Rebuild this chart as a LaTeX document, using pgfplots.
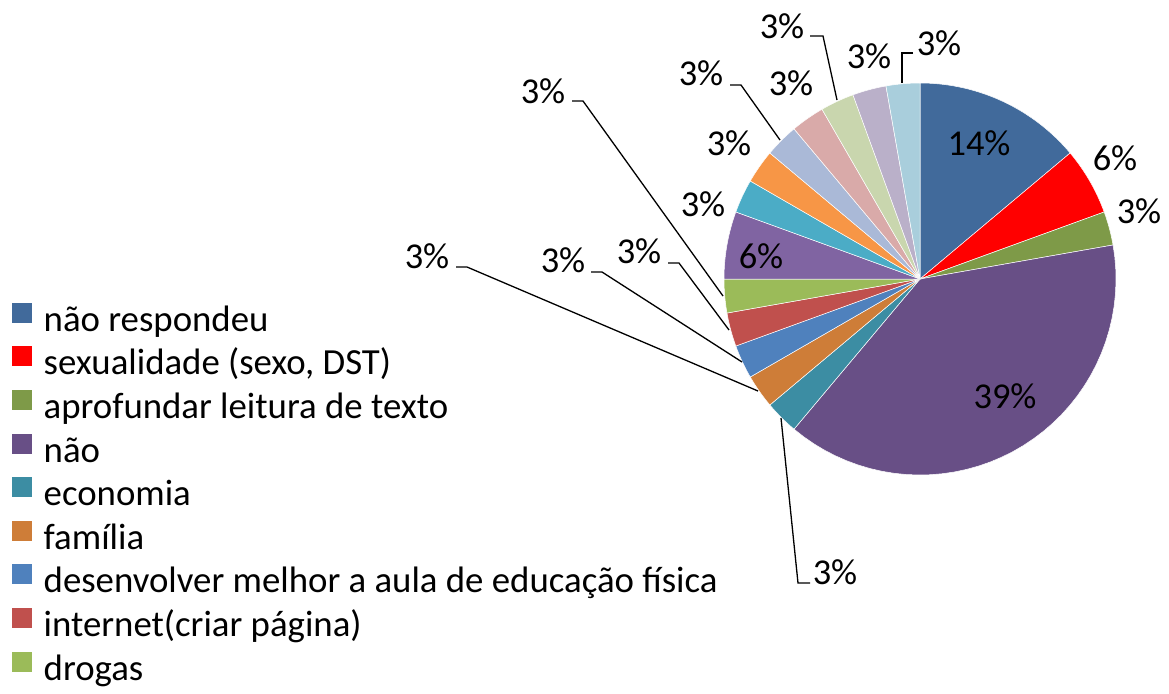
\documentclass[border=0pt]{standalone}
\usepackage{fontspec}
\setmainfont{Carlito}
\usepackage{pgfplots}
\usepackage{pgfplotstable}
\pgfplotsset{compat=1.18}

\definecolor{s1}{HTML}{416A9B}
\definecolor{s2}{HTML}{FF0000}
\definecolor{s3}{HTML}{7E9A48}
\definecolor{s4}{HTML}{684F86}
\definecolor{s5}{HTML}{3C8DA3}
\definecolor{s6}{HTML}{CE7D38}
\definecolor{s7}{HTML}{4F81BD}
\definecolor{s8}{HTML}{C0504D}
\definecolor{s9}{HTML}{9BBB59}
\definecolor{s10}{HTML}{8064A2}
\definecolor{s11}{HTML}{4BACC6}
\definecolor{s12}{HTML}{F79646}
\definecolor{s13}{HTML}{AAB9D7}
\definecolor{s14}{HTML}{D9AAA9}
\definecolor{s15}{HTML}{C9D6AE}
\definecolor{s16}{HTML}{BAB0C9}
\definecolor{s17}{HTML}{A9CEDC}

% answers per category (36 in total)
\pgfplotstableread{
n  c
5  s1
2  s2
1  s3
14 s4
1  s5
1  s6
1  s7
1  s8
1  s9
2  s10
1  s11
1  s12
1  s13
1  s14
1  s15
1  s16
1  s17
}\piedata

\newcommand\legf{\fontsize{36.8bp}{43.6bp}\selectfont}
\newcommand\labf{\fontsize{36.4bp}{43.6bp}\selectfont}

\begin{document}
\begin{tikzpicture}
\begin{axis}[
    width=1169bp, height=687bp, scale only axis,
    xmin=0, xmax=1169, ymin=0, ymax=687,
    y dir=reverse,
    hide axis, clip=false,
    legend style={
        at={(axis cs:11,301)}, anchor=north west,
        draw=none, fill=none, inner sep=0pt,
        font=\legf, row sep=0pt, column sep=11bp,
        nodes={inner sep=0pt, text height=30bp, text depth=13.6bp},
    },
    legend cell align=left,
    legend image code/.code={\fill[#1] (0bp,0bp) rectangle (21bp,21bp);},
]
\path (0,0) rectangle (1169,687);

\def\total{0}
\pgfplotsforeachungrouped \i in {0,...,16}{
  \pgfplotstablegetelem{\i}{n}\of\piedata
  \pgfmathsetmacro\total{\total+\pgfplotsretval}
}
\def\cum{0}
\pgfplotsforeachungrouped \i in {0,...,16}{
  \pgfplotstablegetelem{\i}{n}\of\piedata \let\n\pgfplotsretval
  \pgfplotstablegetelem{\i}{c}\of\piedata \let\col\pgfplotsretval
  \pgfmathsetmacro\aa{90-360*\cum/\total}
  \pgfmathsetmacro\cum{\cum+\n}
  \pgfmathsetmacro\bb{90-360*\cum/\total}
  \edef\temp{\noexpand\addplot[fill=\col, draw=white, line width=0.5bp,
      domain=\bb:\aa, samples=40, variable=\noexpand\t]
      ({920+196*cos(\noexpand\t)},{279-196*sin(\noexpand\t)}) -- (920,279) -- cycle;}
  \temp
}

\legend{não respondeu, {sexualidade (sexo, DST)}, aprofundar leitura de texto,
  não, economia, família, desenvolver melhor a aula de educação física,
  internet(criar página), drogas}

% percentage labels
\begin{scope}[every node/.style={font=\labf, anchor=base, inner sep=0pt}]
\node at (979,155) {14\%};
\node at (1115,170) {6\%};
\node at (1139,223) {3\%};
\node at (1005,408) {39\%};
\node at (835,584) {3\%};
\node at (427,268) {3\%};
\node at (563,272) {3\%};
\node at (639,263) {3\%};
\node at (543,103) {3\%};
\node at (761,268) {6\%};
\node at (703,216) {3\%};
\node at (729,155) {3\%};
\node at (701,85) {3\%};
\node at (791,95) {3\%};
\node at (782,38) {3\%};
\node at (869,68) {3\%};
\node at (939,55) {3\%};
\end{scope}

% leader lines
\begin{scope}[line width=1.3bp]
\draw (781,418) -- (798,583) -- (810,583);
\draw (456,267) -- (467,267) -- (758,391);
\draw (591,272) -- (602,272) -- (742,362);
\draw (668,263) -- (679,263) -- (729,330);
\draw (572,101) -- (583,101) -- (723,296);
\draw (730,85) -- (741,85) -- (780,140);
\draw (810,36) -- (823,36) -- (837,100);
\draw (913,53) -- (902,53) -- (902,83);
\end{scope}
\end{axis}
\end{tikzpicture}
\end{document}
